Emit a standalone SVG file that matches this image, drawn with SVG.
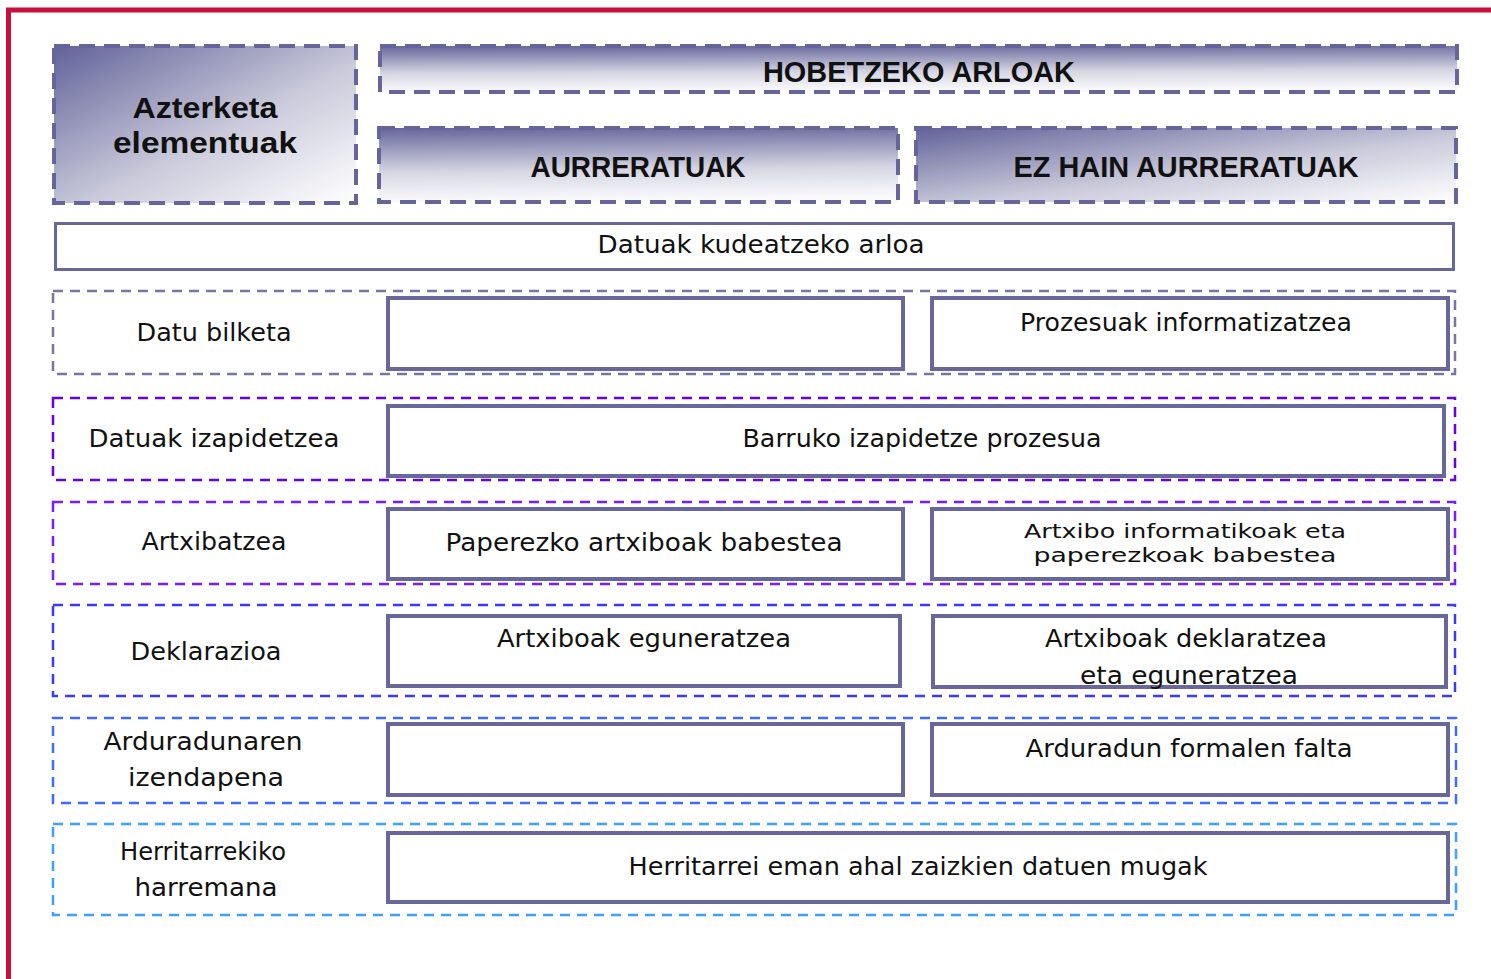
<svg xmlns="http://www.w3.org/2000/svg" width="1491" height="979" viewBox="0 0 1491 979">
<defs>
<linearGradient id="gDiag" x1="0" y1="0" x2="1" y2="1">
<stop offset="0" stop-color="#62629a"/>
<stop offset="0.55" stop-color="#c9c9da"/>
<stop offset="1" stop-color="#ffffff"/>
</linearGradient>
<linearGradient id="gVert" x1="0" y1="0" x2="0.08" y2="1">
<stop offset="0" stop-color="#65659b"/>
<stop offset="0.6" stop-color="#d6d6e3"/>
<stop offset="1" stop-color="#fafafc"/>
</linearGradient>
<style>
.hdr{stroke:#65659b;stroke-width:4;stroke-dasharray:16 9}
.row{fill:#ffffff;stroke-width:2.5;stroke-dasharray:10 7}
.box{fill:#ffffff;stroke:#67679c;stroke-width:4}
.t{font-family:"DejaVu Sans","Liberation Sans",sans-serif;font-size:24px;fill:#111111;text-anchor:middle}
.s{font-size:20px}
.b{font-family:"Liberation Sans","DejaVu Sans",sans-serif;font-size:29px;font-weight:bold;fill:#111111;text-anchor:middle}
</style>
</defs>
<rect x="0" y="0" width="1491" height="979" fill="#ffffff"/>
<rect id="frame" x="8.5" y="10" width="1500" height="1000" fill="none" stroke="#c8103e" stroke-width="5"/>

<g id="azterketa">
<rect class="hdr" x="54" y="46" width="302" height="157" fill="url(#gDiag)"/>
<text class="b" x="205" y="118" textLength="145" lengthAdjust="spacingAndGlyphs">Azterketa</text>
<text class="b" x="205" y="153" textLength="184" lengthAdjust="spacingAndGlyphs">elementuak</text>
</g>
<g id="hobetzeko">
<rect class="hdr" x="380" y="46" width="1077" height="46" fill="url(#gVert)"/>
<text class="b" x="919" y="82" textLength="312" lengthAdjust="spacingAndGlyphs">HOBETZEKO ARLOAK</text>
</g>
<g id="aurreratuak">
<rect class="hdr" x="379" y="128" width="519" height="74" fill="url(#gVert)"/>
<text class="b" x="638" y="177" textLength="215" lengthAdjust="spacingAndGlyphs">AURRERATUAK</text>
</g>
<g id="ezhain">
<rect class="hdr" x="916" y="128" width="540" height="74" fill="url(#gDiag)"/>
<text class="b" x="1186" y="177" textLength="345" lengthAdjust="spacingAndGlyphs">EZ HAIN AURRERATUAK</text>
</g>
<g id="kudeatzeko">
<rect x="55.5" y="223.5" width="1398" height="46" fill="#ffffff" stroke="#67679c" stroke-width="3"/>
<text class="t" x="761" y="253" textLength="327" lengthAdjust="spacingAndGlyphs">Datuak kudeatzeko arloa</text>
</g>

<g id="row-datu-bilketa">
<rect class="row" x="53" y="291" width="1402" height="83" stroke="#7575aa"/>
<text class="t" x="214" y="341" textLength="155" lengthAdjust="spacingAndGlyphs">Datu bilketa</text>
<rect class="box" x="388" y="298" width="515" height="71"/>
<rect class="box" x="932" y="298" width="516" height="71"/>
<text class="t" x="1186" y="331" textLength="332" lengthAdjust="spacingAndGlyphs">Prozesuak informatizatzea</text>
</g>

<g id="row-izapidetzea">
<rect class="row" x="53" y="398" width="1402" height="82" stroke="#6a00e4"/>
<text class="t" x="214" y="447" textLength="251" lengthAdjust="spacingAndGlyphs">Datuak izapidetzea</text>
<rect class="box" x="388" y="406" width="1056" height="70"/>
<text class="t" x="922" y="447" textLength="359" lengthAdjust="spacingAndGlyphs">Barruko izapidetze prozesua</text>
</g>

<g id="row-artxibatzea">
<rect class="row" x="53" y="502" width="1402" height="82" stroke="#7a1cff"/>
<text class="t" x="214" y="550" textLength="145" lengthAdjust="spacingAndGlyphs">Artxibatzea</text>
<rect class="box" x="388" y="509" width="515" height="70"/>
<text class="t" x="644" y="551" textLength="397" lengthAdjust="spacingAndGlyphs">Paperezko artxiboak babestea</text>
<rect class="box" x="932" y="509" width="516" height="70"/>
<text class="t s" x="1185" y="538" textLength="322" lengthAdjust="spacingAndGlyphs">Artxibo informatikoak eta</text>
<text class="t s" x="1185" y="562" textLength="303" lengthAdjust="spacingAndGlyphs">paperezkoak babestea</text>
</g>

<g id="row-deklarazioa">
<rect class="row" x="53" y="605" width="1402" height="91" stroke="#3a3aff"/>
<text class="t" x="206" y="660" textLength="151" lengthAdjust="spacingAndGlyphs">Deklarazioa</text>
<rect class="box" x="388" y="616" width="512" height="70"/>
<text class="t" x="644" y="647" textLength="294" lengthAdjust="spacingAndGlyphs">Artxiboak eguneratzea</text>
<rect class="box" x="933" y="616" width="513" height="71"/>
<text class="t" x="1186" y="647" textLength="282" lengthAdjust="spacingAndGlyphs">Artxiboak deklaratzea</text>
<text class="t" x="1189" y="684" textLength="218" lengthAdjust="spacingAndGlyphs">eta eguneratzea</text>
</g>

<g id="row-arduradunaren">
<rect class="row" x="53" y="718" width="1403" height="85" stroke="#3f6bff"/>
<text class="t" x="203" y="750" textLength="199" lengthAdjust="spacingAndGlyphs">Arduradunaren</text>
<text class="t" x="206" y="786" textLength="156" lengthAdjust="spacingAndGlyphs">izendapena</text>
<rect class="box" x="388" y="724" width="515" height="71"/>
<rect class="box" x="932" y="724" width="516" height="71"/>
<text class="t" x="1189" y="757" textLength="327" lengthAdjust="spacingAndGlyphs">Arduradun formalen falta</text>
</g>

<g id="row-herritarrekiko">
<rect class="row" x="53" y="824" width="1403" height="91" stroke="#3d9fff"/>
<text class="t" x="203" y="860" textLength="166" lengthAdjust="spacingAndGlyphs">Herritarrekiko</text>
<text class="t" x="206" y="896" textLength="143" lengthAdjust="spacingAndGlyphs">harremana</text>
<rect class="box" x="388" y="833" width="1060" height="69"/>
<text class="t" x="918" y="875" textLength="579" lengthAdjust="spacingAndGlyphs">Herritarrei eman ahal zaizkien datuen mugak</text>
</g>
</svg>
